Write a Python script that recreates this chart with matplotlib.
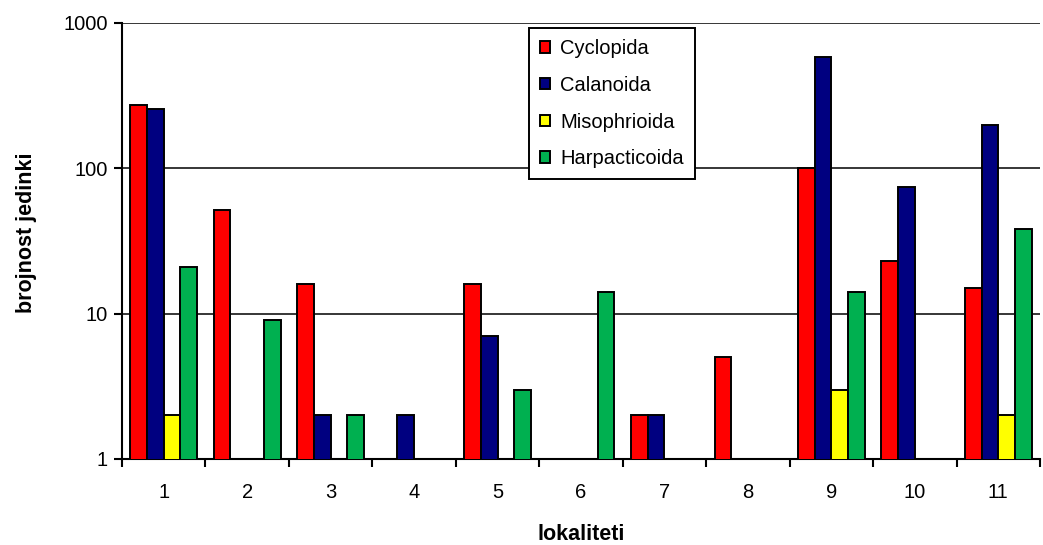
import numpy as np
import matplotlib.pyplot as plt

plt.rcParams['font.family'] = ['Liberation Sans', 'DejaVu Sans']

# lokaliteti 1..11, nan where there is no bar
localities = ['1', '2', '3', '4', '5', '6', '7', '8', '9', '10', '11']
cyclopida = [273, 52, 16, np.nan, 16, np.nan, 2, 5, 100, 23, 15]
calanoida = [257, np.nan, 2, 2, 7, np.nan, 2, np.nan, 580, 74, 200]
misophrioida = [2, np.nan, np.nan, np.nan, np.nan, np.nan, np.nan, np.nan, 3, np.nan, 2]
harpacticoida = [21, 9, 2, np.nan, 3, 14, np.nan, np.nan, 14, np.nan, 38]

series = [
    ('Cyclopida', cyclopida, '#FF0000'),
    ('Calanoida', calanoida, '#000080'),
    ('Misophrioida', misophrioida, '#FFFF00'),
    ('Harpacticoida', harpacticoida, '#00B050'),
]

fig = plt.figure(figsize=(10.43, 5.45), dpi=100)
ax = fig.add_axes([122 / 1043, 1 - 459 / 545, (1040 - 122) / 1043, (459 - 23) / 545])

x = np.arange(len(localities))
w = 0.2
for i, (name, vals, col) in enumerate(series):
    ax.bar(x + (i - 1.5) * w, vals, width=w, color=col, edgecolor='black',
           linewidth=1.4, label=name, zorder=3)

ax.set_yscale('log')
ax.set_ylim(1, 1000)
ax.set_xlim(-0.5, len(localities) - 0.5)
ax.set_yticks([1, 10, 100, 1000])
ax.set_yticklabels(['1', '10', '100', '1000'])
ax.yaxis.set_minor_locator(plt.NullLocator())
ax.yaxis.grid(True, color='black', linewidth=1.1, zorder=0)
ax.set_axisbelow(True)

# x ticks sit between the groups, labels in the middle
ax.set_xticks(np.arange(len(localities) + 1) - 0.5)
ax.set_xticklabels([])
ax.set_xticks(x, minor=True)
ax.set_xticklabels(localities, minor=True)
ax.tick_params(axis='x', which='minor', length=0, pad=17, labelsize=14.5)
ax.tick_params(axis='x', which='major', length=6, width=1.5, direction='out')
ax.tick_params(axis='y', length=6, width=1.5, labelsize=14.5, pad=4)

for s in ['top', 'right']:
    ax.spines[s].set_visible(False)
for s in ['left', 'bottom']:
    ax.spines[s].set_linewidth(1.5)

ax.set_xlabel('lokaliteti', fontsize=15.5, fontweight='bold', labelpad=16)
ax.set_ylabel('brojnost jedinki', fontsize=15.5, fontweight='bold')
ax.yaxis.set_label_coords(-0.093, 0.52)

leg = ax.legend(loc='upper left', bbox_to_anchor=(529 / 1043, 1 - 28 / 545),
                bbox_transform=fig.transFigure, borderaxespad=0, fontsize=14.5,
                frameon=True, fancybox=False, framealpha=1, edgecolor='black',
                handlelength=0.5, handleheight=0.5, handletextpad=0.5,
                labelspacing=0.88, borderpad=0.55)
leg.get_frame().set_linewidth(1.4)

fig.savefig('out.png', dpi=100)
